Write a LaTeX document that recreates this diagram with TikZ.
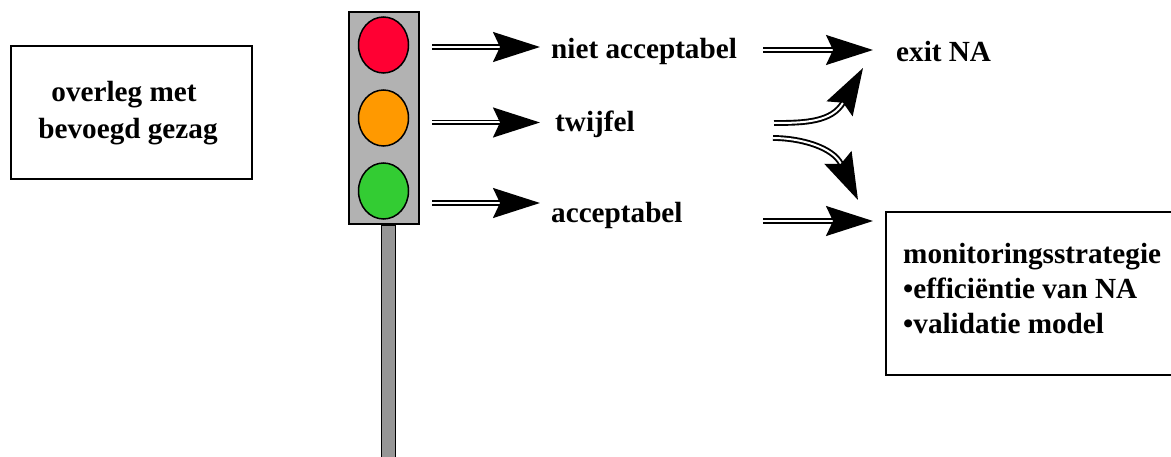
\documentclass[tikz,border=0pt]{standalone}
\usepackage{fontspec}
\setmainfont{Liberation Serif}
\usetikzlibrary{arrows.meta,shapes.geometric}
\definecolor{housing}{HTML}{B2B2B2}
\definecolor{polegray}{HTML}{969696}
\definecolor{lred}{HTML}{FF0033}
\definecolor{lorange}{HTML}{FF9900}
\definecolor{lgreen}{HTML}{33CC33}
\tikzset{
  x=1pt,y=-1pt,
  lamp/.style={draw=black,line width=1.5pt,ellipse,minimum width=50pt,minimum height=56pt,inner sep=0pt},
  boxed/.style={draw=black,line width=1.2pt,fill=white,inner sep=0pt},
  lbl/.style={font=\fontsize{29.2}{34}\selectfont\bfseries,inner sep=0pt,anchor=base west,align=left},
  dbl/.style={draw=black,line width=1.9pt,double=white,double distance=2pt,
     -{Stealth[length=47pt,width=30pt,inset=7pt]}}
}
\begin{document}
\begin{tikzpicture}
\useasboundingbox (0,0) rectangle (1171,457);
\fill[white] (0,0) rectangle (1171,457);
% pole and housing
\node[draw=black,line width=1.2pt,fill=polegray,minimum width=14pt,minimum height=240pt,inner sep=0pt] (pole) at (388.5,345) {};
\node[draw=black,line width=1.4pt,fill=housing,minimum width=70pt,minimum height=212pt,inner sep=0pt] (housing) at (384,118) {};
\node[lamp,fill=lred] (red) at (383.5,45) {};
\node[lamp,fill=lorange] (orange) at (383.5,118) {};
\node[lamp,fill=lgreen] (green) at (383.5,191) {};
% boxes
\node[boxed,minimum width=241pt,minimum height=133pt] (overleg) at (131.5,112.5) {};
\node[lbl,anchor=base,align=center] (overlegt1) at (124,102) {overleg met};
\node[lbl,anchor=base,align=center] (overlegt2) at (128,139) {bevoegd gezag};
\draw[boxed] (1175,212) -- (886,212) -- (886,375) -- (1175,375);
\node[lbl] (m1) at (903,264) {monitoringsstrategie};
\node[lbl] (m2) at (903,299) {•efficiëntie van NA};
\node[lbl] (m3) at (903,334) {•validatie model};
% labels
\node[lbl] (na) at (551,59) {niet acceptabel};
\node[lbl] (tw) at (555,132) {twijfel};
\node[lbl] (ac) at (551,223) {acceptabel};
\node[lbl] (ex) at (896,62) {exit NA};
% free ends
\coordinate (s1) at (432,47);
\coordinate (e1) at (540,47);
\coordinate (s2) at (432,122.5);
\coordinate (e2) at (540,122.5);
\coordinate (s3) at (432,203);
\coordinate (e3) at (540,203);
\coordinate (s4) at (763,50);
\coordinate (e4) at (873,50);
\coordinate (s5) at (763,221);
\coordinate (e5) at (873,221);
\coordinate (s6) at (774,123);
\coordinate (e6) at (863,68);
\coordinate (s7) at (773,138);
\coordinate (e7) at (858,200);
% connectors
\draw[dbl] (s1) -- (e1);
\draw[dbl] (s2) -- (e2);
\draw[dbl] (s3) -- (e3);
\draw[dbl] (s4) -- (e4);
\draw[dbl] (s5) -- (e5);
\draw[dbl] (s6) .. controls (805,123) and (832,122) .. (e6);
\draw[dbl] (s7) .. controls (800,138) and (833,147) .. (e7);
\end{tikzpicture}
\end{document}
